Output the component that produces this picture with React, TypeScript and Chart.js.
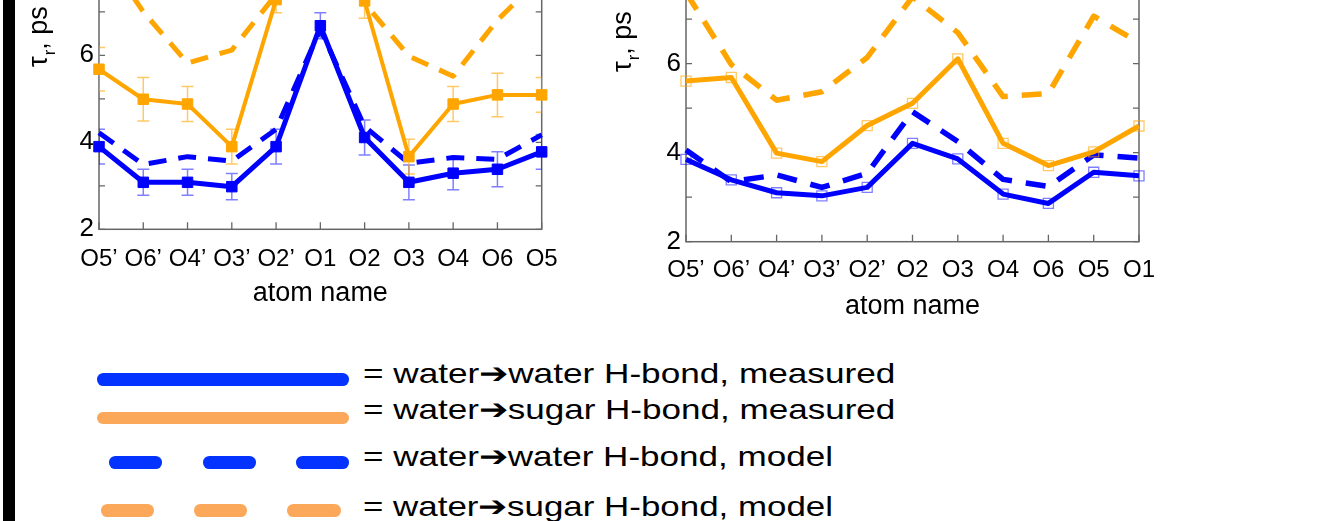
import React, { useEffect, useRef } from "react";
import { Chart, registerables } from "chart.js";
Chart.register(...registerables);

// ---------------- data ----------------
const leftAtoms = ["O5’", "O6’", "O4’", "O3’", "O2’", "O1", "O2", "O3", "O4", "O6", "O5"];
const rightAtoms = ["O5’", "O6’", "O4’", "O3’", "O2’", "O2", "O3", "O4", "O6", "O5", "O1"];

const leftWaterWaterMeasured = [3.9, 3.08, 3.08, 2.98, 3.9, 6.68, 4.11, 3.08, 3.29, 3.38, 3.78];
const leftWaterWaterError = [0.4, 0.3, 0.3, 0.3, 0.4, 0.3, 0.4, 0.4, 0.38, 0.4, 0.4];
const leftWaterSugarMeasured = [5.68, 4.99, 4.88, 3.9, 7.28, 9.0, 7.25, 3.67, 4.88, 5.09, 5.09];
const leftWaterSugarError = [0.5, 0.5, 0.4, 0.4, 0.3, 0.4, 0.4, 0.4, 0.4, 0.5, 0.4];
const leftWaterWaterModel = [4.22, 3.49, 3.67, 3.57, 4.3, 6.6, 4.36, 3.52, 3.65, 3.61, 4.17];
const leftWaterSugarModel = [8.5, 7.0, 5.82, 6.12, 7.4, 8.6, 7.2, 5.98, 5.52, 6.81, 7.8];

const rightWaterWaterMeasured = [3.85, 3.39, 3.1, 3.03, 3.22, 4.21, 3.86, 3.07, 2.86, 3.56, 3.48];
const rightWaterSugarMeasured = [5.61, 5.69, 3.99, 3.8, 4.61, 5.11, 6.11, 4.21, 3.71, 4.02, 4.6];
const rightWaterWaterModel = [4.06, 3.35, 3.5, 3.22, 3.54, 4.92, 4.25, 3.4, 3.24, 3.95, 3.88];
const rightWaterSugarModel = [7.6, 5.98, 5.18, 5.37, 6.14, 7.5, 6.7, 5.26, 5.33, 7.07, 6.47];

const yMin = 2;
const yMax = 8;
const yLabelledTicks = [2, 4, 6];
const xTitle = "atom name";
const legendLabels = [
  "= water➔water H-bond, measured",
  "= water➔sugar H-bond, measured",
  "= water➔water H-bond, model",
  "= water➔sugar H-bond, model",
];

// ---------------- styles ----------------
const FONT = "'Liberation Sans', Arial, Helvetica, sans-serif";
const BLUE = "#0000ff";
const ORANGE = "#ffa500";
const BLUE_LIGHT = "rgba(0,0,255,0.5)";
const ORANGE_LIGHT = "rgba(255,165,0,0.6)";
const LEG_BLUE = "#0433ff";
const LEG_ORANGE = "#fba85a";
const AXIS = "#666666";

// ---------------- plugins ----------------
const framePlugin = {
  id: "frame",
  beforeDatasetsDraw(chart: any) {
    const { ctx, chartArea: ca, scales } = chart;
    const x = scales.x;
    const y = scales.y;
    ctx.save();
    ctx.strokeStyle = AXIS;
    ctx.lineWidth = 1.5;
    ctx.strokeRect(ca.left, ca.top, ca.right - ca.left, ca.bottom - ca.top);
    ctx.lineWidth = 1.3;
    ctx.beginPath();
    y.ticks.forEach((t: any) => {
      const py = y.getPixelForValue(t.value);
      ctx.moveTo(ca.left, py);
      ctx.lineTo(ca.left + 6, py);
      ctx.moveTo(ca.right - 6, py);
      ctx.lineTo(ca.right, py);
    });
    x.ticks.forEach((t: any) => {
      const px = x.getPixelForValue(t.value);
      ctx.moveTo(px, ca.bottom);
      ctx.lineTo(px, ca.bottom - 7);
      ctx.moveTo(px, ca.top);
      ctx.lineTo(px, ca.top + 7);
    });
    ctx.stroke();

    // error bars
    ctx.beginPath();
    ctx.rect(ca.left, ca.top, ca.right - ca.left, ca.bottom - ca.top);
    ctx.clip();
    chart.data.datasets.forEach((ds: any) => {
      if (!ds.errorBars) return;
      ctx.strokeStyle = ds.errorColor;
      ctx.lineWidth = 1.5;
      ctx.beginPath();
      ds.data.forEach((v: number, j: number) => {
        const e = ds.errorBars[j];
        const px = x.getPixelForValue(j);
        const pt = y.getPixelForValue(v + e);
        const pb = y.getPixelForValue(v - e);
        ctx.moveTo(px, pt);
        ctx.lineTo(px, pb);
        ctx.moveTo(px - 6, pt);
        ctx.lineTo(px + 6, pt);
        ctx.moveTo(px - 6, pb);
        ctx.lineTo(px + 6, pb);
      });
      ctx.stroke();
    });
    ctx.restore();
  },
};

const yTitlePlugin = {
  id: "yTitle",
  afterDraw(chart: any, _args: any, opts: any) {
    const { ctx } = chart;
    const size = opts.size || 24;
    ctx.save();
    ctx.translate(opts.x, opts.y);
    ctx.rotate(-Math.PI / 2);
    ctx.fillStyle = "#000";
    ctx.textAlign = "left";
    ctx.textBaseline = "alphabetic";
    ctx.font = `${size}px ${FONT}`;
    ctx.fillText("τ", 0, 0);
    let w = ctx.measureText("τ").width + 1;
    ctx.font = `${Math.round(size * 0.62)}px ${FONT}`;
    ctx.fillText("r", w, size * 0.3);
    w += ctx.measureText("r").width;
    ctx.font = `${size}px ${FONT}`;
    ctx.fillText(", ps", w, 0);
    ctx.restore();
  },
};

// ---------------- config ----------------
function lineDs(label: string, data: number[], color: string, o: any) {
  return {
    label,
    data,
    borderColor: color,
    backgroundColor: "transparent",
    borderWidth: o.width,
    borderDash: o.dash || [],
    borderCapStyle: "butt",
    borderJoinStyle: "round",
    pointStyle: "rect",
    pointRadius: o.pointRadius || 0,
    pointBorderColor: o.pointBorder || color,
    pointBackgroundColor: o.pointFill || "transparent",
    pointBorderWidth: o.pointBorderWidth || 1,
    tension: 0,
    clip: false,
    errorBars: o.errors,
    errorColor: o.errorColor,
  };
}

function makeConfig(p: any) {
  return {
    type: "line",
    data: { labels: p.labels, datasets: p.datasets },
    options: {
      animation: false,
      responsive: false,
      devicePixelRatio: 1,
      events: [],
      layout: { padding: p.padding },
      plugins: {
        legend: { display: false },
        tooltip: { enabled: false },
        yTitle: p.yTitle,
      },
      scales: {
        x: {
          type: "category",
          offset: false,
          grid: { display: false, drawTicks: false },
          border: { display: false },
          ticks: {
            color: "#000",
            font: { family: FONT, size: 24 },
            padding: p.xTickPad,
            maxRotation: 0,
            autoSkip: false,
          },
          title: {
            display: true,
            text: xTitle,
            color: "#000",
            font: { family: FONT, size: 27 },
            padding: { top: 0, bottom: p.xTitlePad },
          },
          afterFit: (s: any) => {
            s.height = p.xHeight;
          },
        },
        y: {
          type: "linear",
          min: yMin,
          max: yMax,
          grid: { display: false, drawTicks: false },
          border: { display: false },
          ticks: {
            stepSize: 1,
            color: "#000",
            font: { family: FONT, size: 26 },
            padding: 5,
            callback: (v: number) => (yLabelledTicks.includes(v) ? String(v) : ""),
          },
          afterFit: (s: any) => {
            s.width = p.yWidth;
          },
        },
      },
    },
    plugins: [framePlugin, yTitlePlugin],
  };
}

function leftConfig() {
  return makeConfig({
    labels: leftAtoms,
    padding: { left: 0, top: 28.3, right: 58.3, bottom: 0 },
    yWidth: 99,
    xHeight: 90.7,
    xTickPad: 16,
    xTitlePad: 9.8,
    yTitle: { x: 47, y: 127, size: 27 },
    datasets: [
      lineDs("water→water measured", leftWaterWaterMeasured, BLUE, {
        width: 5, pointRadius: 7.4, pointFill: BLUE, errors: leftWaterWaterError, errorColor: BLUE_LIGHT,
      }),
      lineDs("water→sugar measured", leftWaterSugarMeasured, ORANGE, {
        width: 4, pointRadius: 7.4, pointFill: ORANGE, errors: leftWaterSugarError, errorColor: ORANGE_LIGHT,
      }),
      lineDs("water→water model", leftWaterWaterModel, BLUE, { width: 5, dash: [18, 12] }),
      lineDs("water→sugar model", leftWaterSugarModel, ORANGE, { width: 5, dash: [18, 12] }),
    ],
  });
}

function rightConfig() {
  return makeConfig({
    labels: rightAtoms,
    padding: { left: 0, top: 34.7, right: 41, bottom: 0 },
    yWidth: 106,
    xHeight: 98.3,
    xTickPad: 14.5,
    xTitlePad: 16.8,
    yTitle: { x: 51, y: 132, size: 27 },
    datasets: [
      lineDs("water→water measured", rightWaterWaterMeasured, BLUE, {
        width: 5, pointRadius: 7.1, pointBorder: BLUE_LIGHT, pointBorderWidth: 1.3,
      }),
      lineDs("water→sugar measured", rightWaterSugarMeasured, ORANGE, {
        width: 5, pointRadius: 7.1, pointBorder: ORANGE_LIGHT, pointBorderWidth: 1.3,
      }),
      lineDs("water→water model", rightWaterWaterModel, BLUE, { width: 5.5, dash: [20, 14] }),
      lineDs("water→sugar model", rightWaterSugarModel, ORANGE, { width: 5.5, dash: [20, 14] }),
    ],
  });
}

function ChartCanvas({ make, left, top, width, height }: any) {
  const ref = useRef<HTMLCanvasElement>(null);
  useEffect(() => {
    const chart = new Chart(ref.current as HTMLCanvasElement, make() as any);
    return () => chart.destroy();
  }, []);
  return (
    <canvas
      ref={ref}
      width={width}
      height={height}
      style={{ position: "absolute", left, top, width, height }}
    />
  );
}

// ---------------- legend ----------------
const legendLayout = [
  { color: LEG_BLUE, segs: [[96.7, 349.3]], cy: 379.7, textLeft: 362.7, textRight: 895, baseline: 383.3 },
  { color: LEG_ORANGE, segs: [[96.7, 349.3]], cy: 418, textLeft: 362.7, textRight: 895, baseline: 419.3 },
  { color: LEG_BLUE, segs: [[109.3, 162.3], [202.7, 255.7], [296, 349]], cy: 462.3, textLeft: 363, textRight: 833, baseline: 466.7 },
  { color: LEG_ORANGE, segs: [[100.7, 154], [194, 247.3], [287.3, 340.7]], cy: 510.3, textLeft: 363, textRight: 833, baseline: 516.7 },
];
const LEG_FONT = 28;
const LEG_THICK = 12.7;

function Legend() {
  const refs = useRef<(HTMLSpanElement | null)[]>([]);
  useEffect(() => {
    refs.current.forEach((el, i) => {
      if (!el) return;
      el.style.transform = "none";
      const w = el.getBoundingClientRect().width;
      const target = legendLayout[i].textRight - legendLayout[i].textLeft;
      el.style.transform = `scaleX(${target / w})`;
    });
  }, []);
  return (
    <>
      {legendLayout.map((it, i) => (
        <React.Fragment key={i}>
          {it.segs.map((s, k) => (
            <div
              key={k}
              style={{
                position: "absolute",
                left: s[0],
                top: it.cy - LEG_THICK / 2,
                width: s[1] - s[0],
                height: LEG_THICK,
                borderRadius: LEG_THICK / 2,
                background: it.color,
              }}
            />
          ))}
          <span
            ref={(el) => {
              refs.current[i] = el;
            }}
            style={{
              position: "absolute",
              left: it.textLeft,
              top: it.baseline - 23.7,
              fontFamily: FONT,
              fontSize: LEG_FONT,
              lineHeight: `${LEG_FONT}px`,
              whiteSpace: "nowrap",
              color: "#000",
              transformOrigin: "0 0",
              display: "inline-block",
            }}
          >
            {legendLabels[i]}
          </span>
        </React.Fragment>
      ))}
    </>
  );
}

export default function App() {
  return (
    <div
      style={{
        position: "fixed",
        left: 0,
        top: 0,
        width: 1324,
        height: 521,
        overflow: "hidden",
        background: "#fff",
      }}
    >
      <div style={{ position: "absolute", left: 3, top: 0, width: 12, height: 521, background: "#000" }} />
      <ChartCanvas make={leftConfig} left={0} top={-60} width={600} height={380} />
      <ChartCanvas make={rightConfig} left={580} top={-60} width={600} height={400} />
      <Legend />
    </div>
  );
}
